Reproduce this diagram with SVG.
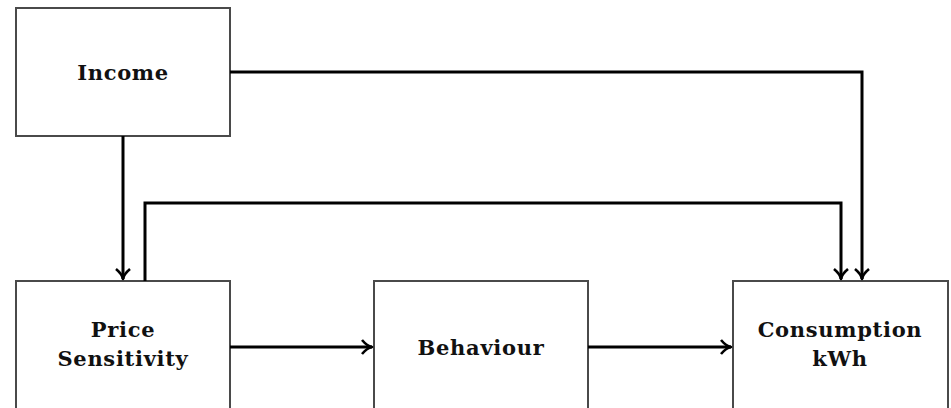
<svg xmlns="http://www.w3.org/2000/svg" width="951" height="408" viewBox="0 0 951 408">
<style>
.box{fill:#fff;stroke:#4a4a4a;stroke-width:2}
.lbl{font-family:"DejaVu Serif","Liberation Serif",serif;font-weight:bold;font-size:21px;letter-spacing:0.7px;fill:#111;text-anchor:middle}
.con{fill:none;stroke:#000;stroke-width:3}
</style>
<defs>
<marker id="ah" markerUnits="userSpaceOnUse" markerWidth="20" markerHeight="20" refX="13" refY="10" orient="auto">
<path d="M3,3 Q8,9 13,10 Q8,11 3,17" fill="none" stroke="#000" stroke-width="2.6" stroke-linejoin="round"/>
</marker>
</defs>
<rect width="951" height="408" fill="#fff"/>
<g id="income"><rect class="box" x="16" y="8" width="214" height="128"/><text class="lbl" x="123" y="80">Income</text></g>
<g id="price"><rect class="box" x="16" y="281" width="214" height="140"/><text class="lbl" x="123" y="337">Price</text><text class="lbl" x="123" y="366">Sensitivity</text></g>
<g id="behaviour"><rect class="box" x="374" y="281" width="214" height="140"/><text class="lbl" x="481" y="355">Behaviour</text></g>
<g id="consumption"><rect class="box" x="733" y="281" width="215" height="140"/><text class="lbl" x="840" y="337">Consumption</text><text class="lbl" x="840" y="366">kWh</text></g>
<g id="connectors">
<path class="con" d="M123,136 V279" marker-end="url(#ah)"/>
<path class="con" d="M230,72 H862 V279" marker-end="url(#ah)"/>
<path class="con" d="M145,281 V203 H841 V279" marker-end="url(#ah)"/>
<path class="con" d="M230,347 H372" marker-end="url(#ah)"/>
<path class="con" d="M588,347 H731" marker-end="url(#ah)"/>
</g>
</svg>
